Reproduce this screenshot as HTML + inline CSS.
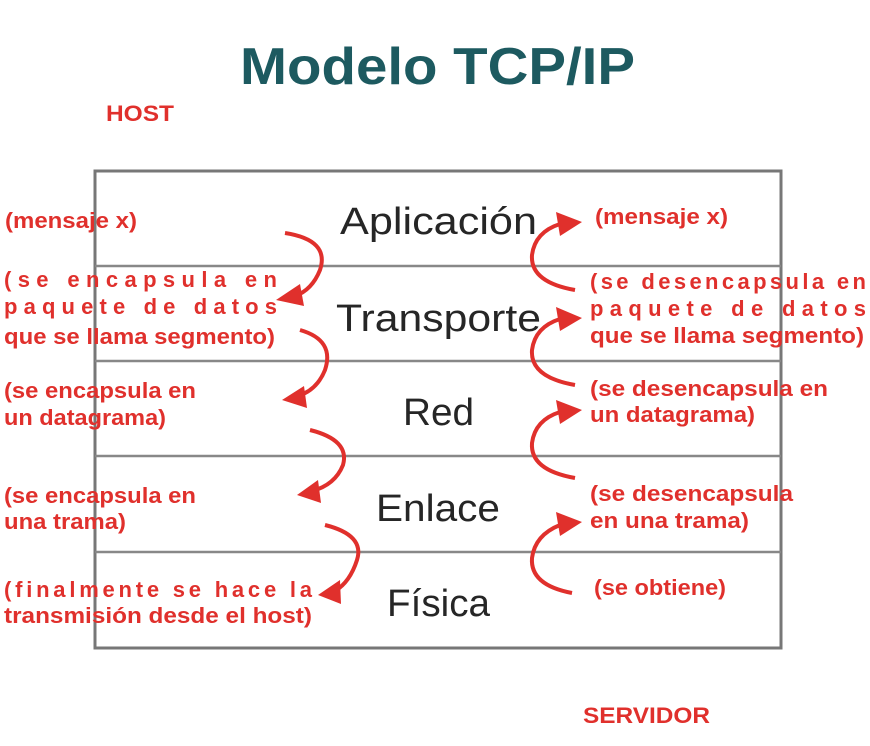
<!DOCTYPE html>
<html><head><meta charset="utf-8"><style>
body{margin:0;width:870px;height:746px;background:#fff;overflow:hidden}
svg text{font-family:"Liberation Sans",sans-serif}
.r{fill:#e0302c;font-weight:bold;font-size:22px}
.l{fill:#262626;font-size:38px}
</style></head><body>
<svg width="870" height="746" style="position:absolute;left:0;top:0">
<text x="240" y="84" textLength="395" lengthAdjust="spacingAndGlyphs" style="font-size:52px;font-weight:bold;fill:#1d5a60">Modelo TCP/IP</text>
<rect x="95" y="171" width="686" height="477" fill="none" stroke="#777" stroke-width="3"/>
<g stroke="#888" stroke-width="2.5"><line x1="95" y1="266" x2="781" y2="266"/><line x1="95" y1="361" x2="781" y2="361"/><line x1="95" y1="456" x2="781" y2="456"/><line x1="95" y1="552" x2="781" y2="552"/></g>
<g fill="none" stroke="#e0302c" stroke-width="4">
<path d="M285 233 Q330 240 320 270 Q312 290 295 296"/>
<path d="M300 330 Q335 340 325 370 Q317 390 298 396"/>
<path d="M310 430 Q350 440 343 465 Q335 485 312 491"/>
<path d="M325 525 Q365 535 357 560 Q350 582 335 591"/>
<path d="M575 290 Q530 282 532 255 Q535 232 560 224"/>
<path d="M575 385 Q530 377 532 350 Q535 327 560 319"/>
<path d="M575 478 Q530 470 532 443 Q535 420 560 412"/>
<path d="M572 593 Q530 585 532 558 Q535 535 560 525"/>
</g>
<g fill="#e0302c">
<polygon points="276,300 300,284 304,306"/>
<polygon points="282,400 304,386 307,408"/>
<polygon points="297,495 318,480 321,503"/>
<polygon points="318,595 340,580 341,604"/>
<polygon points="582,222 556,212 560,236"/>
<polygon points="582,318 556,307 560,331"/>
<polygon points="582,410 556,400 560,424"/>
<polygon points="582,522 556,512 560,536"/>
</g>
<g class="l">
<text x="340" y="234" textLength="197" lengthAdjust="spacingAndGlyphs">Aplicación</text>
<text x="336" y="331" textLength="205" lengthAdjust="spacingAndGlyphs">Transporte</text>
<text x="403" y="425" textLength="71" lengthAdjust="spacingAndGlyphs">Red</text>
<text x="376" y="521" textLength="124" lengthAdjust="spacingAndGlyphs">Enlace</text>
<text x="387" y="616" textLength="103" lengthAdjust="spacingAndGlyphs">Física</text>
</g>
<g class="r">
<text x="106" y="121" textLength="68" lengthAdjust="spacingAndGlyphs">HOST</text>
<text x="583" y="723" textLength="127" lengthAdjust="spacingAndGlyphs">SERVIDOR</text>
<text x="5" y="228" textLength="132" lengthAdjust="spacingAndGlyphs">(mensaje x)</text>
<text x="4" y="287" textLength="273" lengthAdjust="spacing">(se encapsula en</text>
<text x="4" y="314" textLength="273" lengthAdjust="spacing">paquete de datos</text>
<text x="4" y="344" textLength="271" lengthAdjust="spacingAndGlyphs">que se llama segmento)</text>
<text x="4" y="398" textLength="192" lengthAdjust="spacingAndGlyphs">(se encapsula en</text>
<text x="4" y="425" textLength="162" lengthAdjust="spacingAndGlyphs">un datagrama)</text>
<text x="4" y="503" textLength="192" lengthAdjust="spacingAndGlyphs">(se encapsula en</text>
<text x="4" y="529" textLength="122" lengthAdjust="spacingAndGlyphs">una trama)</text>
<text x="4" y="597" textLength="308" lengthAdjust="spacing">(finalmente se hace la</text>
<text x="4" y="623" textLength="308" lengthAdjust="spacingAndGlyphs">transmisión desde el host)</text>
<text x="595" y="224" textLength="133" lengthAdjust="spacingAndGlyphs">(mensaje x)</text>
<text x="590" y="289" textLength="276" lengthAdjust="spacing">(se desencapsula en</text>
<text x="590" y="316" textLength="276" lengthAdjust="spacing">paquete de datos</text>
<text x="590" y="343" textLength="274" lengthAdjust="spacingAndGlyphs">que se llama segmento)</text>
<text x="590" y="396" textLength="238" lengthAdjust="spacingAndGlyphs">(se desencapsula en</text>
<text x="590" y="422" textLength="165" lengthAdjust="spacingAndGlyphs">un datagrama)</text>
<text x="590" y="501" textLength="203" lengthAdjust="spacingAndGlyphs">(se desencapsula</text>
<text x="590" y="528" textLength="159" lengthAdjust="spacingAndGlyphs">en una trama)</text>
<text x="594" y="595" textLength="132" lengthAdjust="spacingAndGlyphs">(se obtiene)</text>
</g>
</svg>
</body></html>
